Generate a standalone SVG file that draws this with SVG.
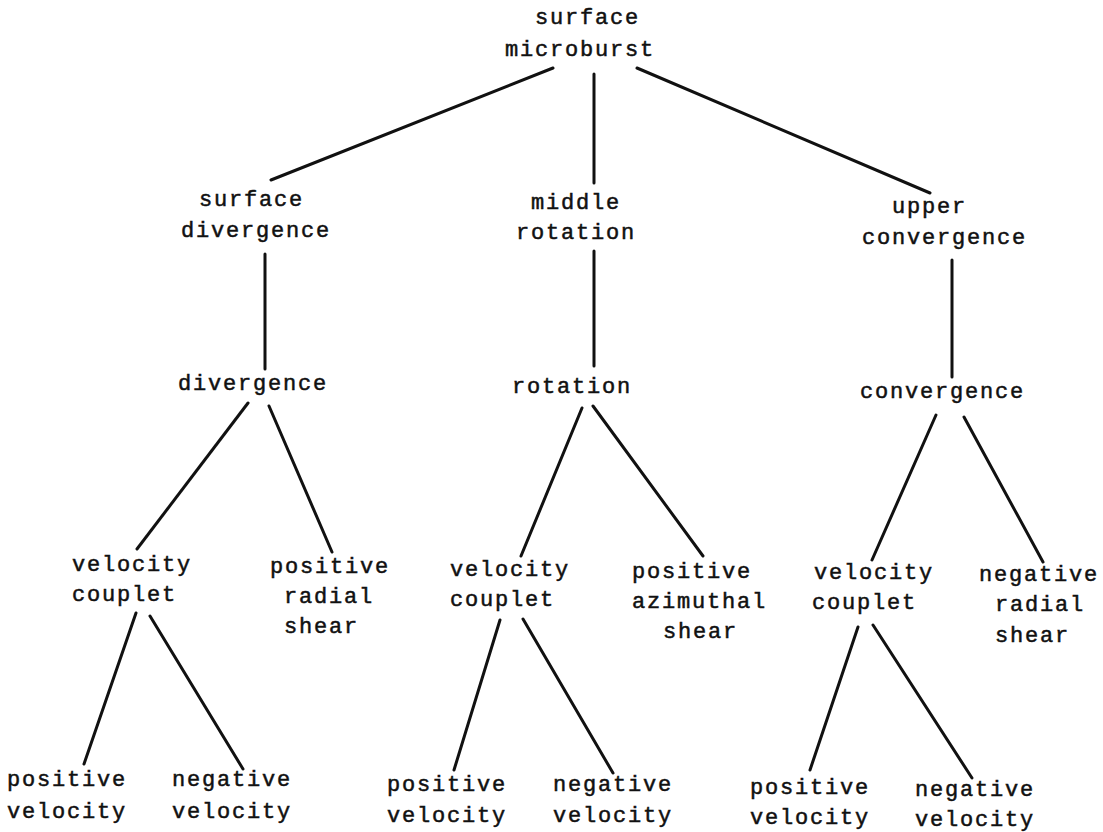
<svg xmlns="http://www.w3.org/2000/svg" width="1103" height="832" viewBox="0 0 1103 832">
<style>
text{font-family:"Liberation Mono","DejaVu Sans Mono",monospace;font-size:22px;letter-spacing:1.8px;fill:#111;stroke:#111;stroke-width:0.5}
.c line{stroke:#111;stroke-width:3;stroke-linecap:round}
</style>
<rect width="1103" height="832" fill="#fff"/>
<g class="c" id="connectors">
<line x1="553" y1="68" x2="271" y2="180"/>
<line x1="594" y1="74" x2="594" y2="183"/>
<line x1="637" y1="68" x2="930" y2="193"/>
<line x1="265" y1="254" x2="265" y2="369"/>
<line x1="594" y1="251" x2="594" y2="366"/>
<line x1="952" y1="260" x2="952" y2="377"/>
<line x1="248" y1="403" x2="137" y2="549"/>
<line x1="269" y1="406" x2="332" y2="552"/>
<line x1="582" y1="408" x2="521" y2="556"/>
<line x1="593" y1="406" x2="703" y2="556"/>
<line x1="936" y1="415" x2="872" y2="560"/>
<line x1="964" y1="417" x2="1043" y2="562"/>
<line x1="136" y1="613" x2="84" y2="764"/>
<line x1="150" y1="616" x2="243" y2="769"/>
<line x1="500" y1="620" x2="454" y2="770"/>
<line x1="523" y1="619" x2="613" y2="773"/>
<line x1="858" y1="627" x2="810" y2="770"/>
<line x1="873" y1="625" x2="972" y2="778"/>
</g>
<g id="root"><text x="535" y="24">surface</text><text x="505" y="56">microburst</text></g>
<g id="surface-divergence"><text x="199" y="206">surface</text><text x="181" y="237">divergence</text></g>
<g id="middle-rotation"><text x="531" y="209">middle</text><text x="516" y="239">rotation</text></g>
<g id="upper-convergence"><text x="892" y="213">upper</text><text x="862" y="244">convergence</text></g>
<g id="divergence"><text x="178" y="390">divergence</text></g>
<g id="rotation"><text x="512" y="393">rotation</text></g>
<g id="convergence"><text x="860" y="398">convergence</text></g>
<g id="vc1"><text x="72" y="571">velocity</text><text x="72" y="601">couplet</text></g>
<g id="prs"><text x="270" y="573">positive</text><text x="284" y="603">radial</text><text x="284" y="633">shear</text></g>
<g id="vc2"><text x="450" y="576">velocity</text><text x="450" y="606">couplet</text></g>
<g id="pas"><text x="632" y="578">positive</text><text x="632" y="608">azimuthal</text><text x="663" y="638">shear</text></g>
<g id="vc3"><text x="814" y="579">velocity</text><text x="812" y="609">couplet</text></g>
<g id="nrs"><text x="979" y="581">negative</text><text x="995" y="611">radial</text><text x="995" y="642">shear</text></g>
<g id="pv1"><text x="7" y="786">positive</text><text x="7" y="818">velocity</text></g>
<g id="nv1"><text x="172" y="786">negative</text><text x="172" y="818">velocity</text></g>
<g id="pv2"><text x="387" y="791">positive</text><text x="387" y="822">velocity</text></g>
<g id="nv2"><text x="553" y="791">negative</text><text x="553" y="822">velocity</text></g>
<g id="pv3"><text x="750" y="794">positive</text><text x="750" y="824">velocity</text></g>
<g id="nv3"><text x="915" y="796">negative</text><text x="915" y="826">velocity</text></g>
</svg>
